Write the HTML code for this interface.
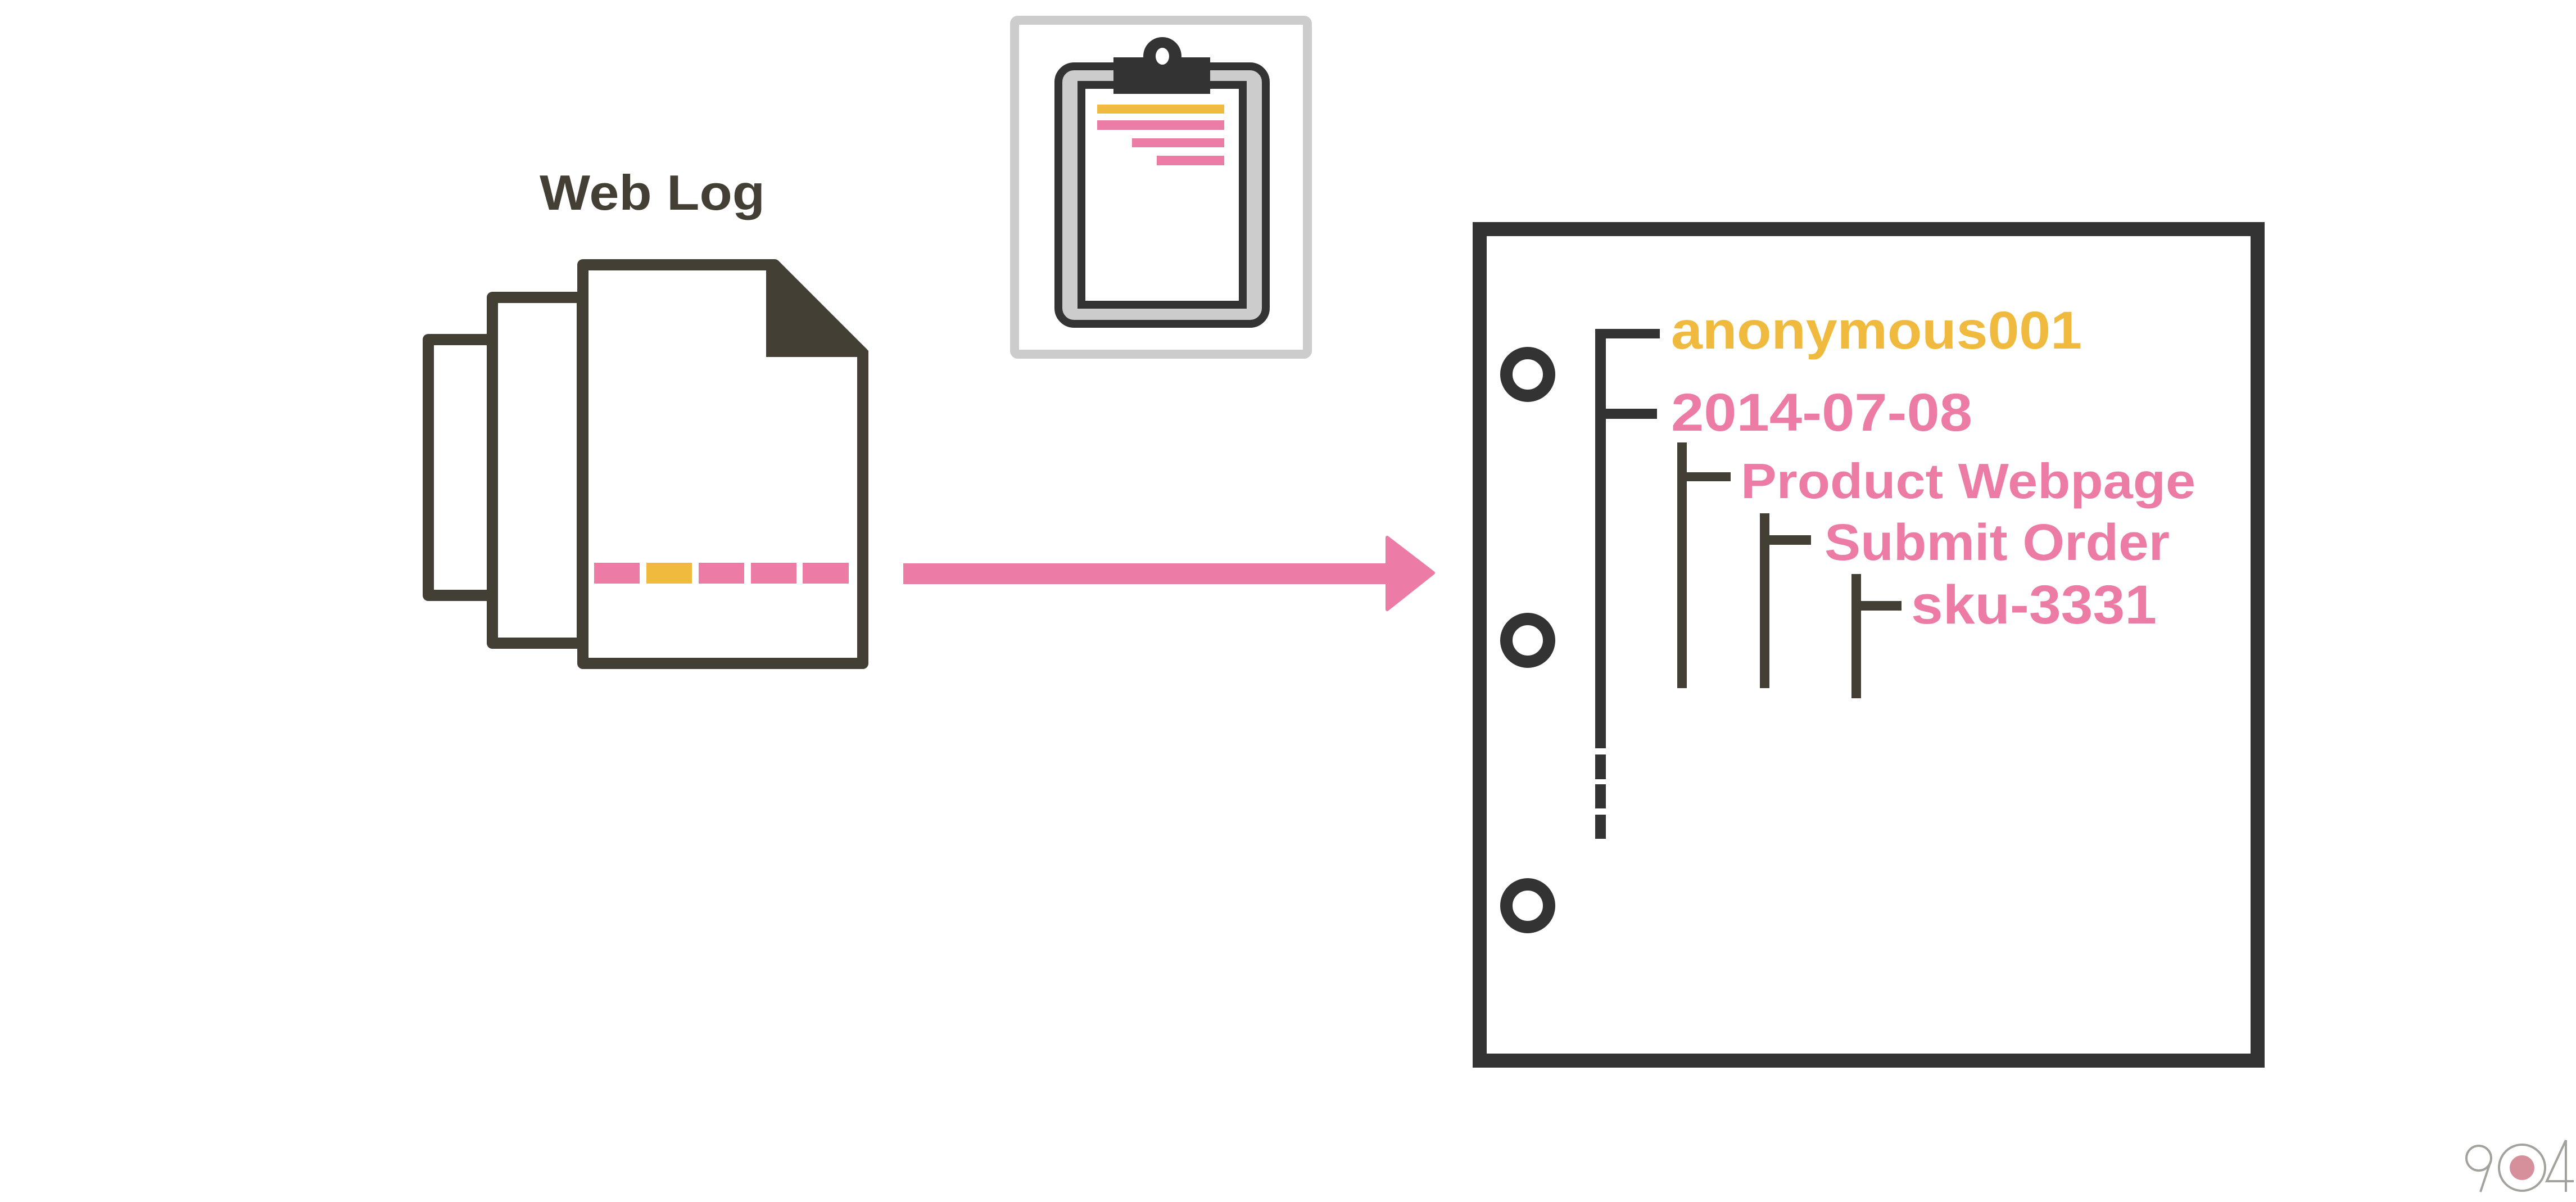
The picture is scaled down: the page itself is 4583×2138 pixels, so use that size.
<!DOCTYPE html>
<html><head><meta charset="utf-8"><style>
html,body{margin:0;padding:0;background:#fff;}
svg{display:block;}
text{font-family:"Liberation Sans",sans-serif;font-weight:bold;}
</style></head><body>
<svg width="4583" height="2138" viewBox="0 0 4583 2138" xmlns="http://www.w3.org/2000/svg">
<rect width="4583" height="2138" fill="#fff"/>
<!-- Web Log label -->
<text x="960" y="373" font-size="88" fill="#433F35" textLength="401" lengthAdjust="spacingAndGlyphs">Web Log</text>
<!-- document stack -->
<g fill="#fff" stroke="#433F35" stroke-width="20" stroke-linejoin="round">
<rect x="762" y="604" width="120" height="455"/>
<rect x="876" y="529" width="160" height="615"/>
<path d="M1037 471 L1378 471 L1535 628 L1535 1180 L1037 1180 Z"/>
</g>
<polygon points="1363,471 1378,471 1545,624 1545,635 1363,635" fill="#433F35"/>
<!-- dashes -->
<rect x="1057" y="1001" width="81" height="37" fill="#EC7CA5"/>
<rect x="1150" y="1001" width="81" height="37" fill="#F0BA3F"/>
<rect x="1243" y="1001" width="81" height="37" fill="#EC7CA5"/>
<rect x="1336" y="1001" width="81" height="37" fill="#EC7CA5"/>
<rect x="1428" y="1001" width="82" height="37" fill="#EC7CA5"/>
<!-- arrow -->
<rect x="1607" y="1002" width="870" height="37" fill="#EC7CA5"/>
<polygon points="2468,956 2550,1019 2468,1084" fill="#EC7CA5" stroke="#EC7CA5" stroke-width="6" stroke-linejoin="round"/>
<!-- clipboard -->
<rect x="1805" y="36" width="521" height="594" fill="#fff" stroke="#ccc" stroke-width="16" rx="6"/>
<rect x="1883" y="118" width="369" height="458" rx="28" fill="#ccc" stroke="#333" stroke-width="14"/>
<rect x="1924" y="151" width="287" height="391" fill="#fff" stroke="#333" stroke-width="14"/>
<rect x="1981" y="102" width="172" height="65" fill="#333"/>
<circle cx="2068" cy="100" r="34" fill="#333"/>
<ellipse cx="2068" cy="100" rx="12" ry="15" fill="#fff"/>
<rect x="1952" y="186" width="226" height="16" fill="#F0BA3F"/>
<rect x="1952" y="214" width="226" height="17" fill="#EC7CA5"/>
<rect x="2014" y="246" width="164" height="16" fill="#EC7CA5"/>
<rect x="2058" y="277" width="120" height="17" fill="#EC7CA5"/>
<!-- panel -->
<rect x="2632.5" y="407.5" width="1384" height="1479" fill="#fff" stroke="#333" stroke-width="25"/>
<g fill="none" stroke="#333" stroke-width="22">
<circle cx="2718" cy="666" r="38"/>
<circle cx="2718" cy="1139" r="38"/>
<circle cx="2718" cy="1611" r="38"/>
</g>
<!-- tree -->
<g fill="#333">
<rect x="2838" y="585" width="19" height="746"/>
<rect x="2838" y="1342" width="19" height="44"/>
<rect x="2838" y="1395" width="19" height="43"/>
<rect x="2838" y="1449" width="19" height="43"/>
<rect x="2838" y="585" width="115" height="17"/>
<rect x="2838" y="727" width="110" height="18"/>
</g>
<g fill="#433F35">
<rect x="2984" y="787" width="17" height="437"/>
<rect x="2984" y="840" width="95" height="16"/>
<rect x="3131" y="913" width="17" height="311"/>
<rect x="3131" y="952" width="91" height="17"/>
<rect x="3294" y="1021" width="17" height="221"/>
<rect x="3294" y="1069" width="89" height="17"/>
</g>
<text x="2973" y="620" font-size="95" fill="#F0BA3F" textLength="731" lengthAdjust="spacingAndGlyphs">anonymous001</text>
<text x="2973" y="766" font-size="95" fill="#EC7CA5" textLength="536" lengthAdjust="spacingAndGlyphs">2014-07-08</text>
<text x="3097" y="886" font-size="88" fill="#EC7CA5" textLength="809" lengthAdjust="spacingAndGlyphs">Product Webpage</text>
<text x="3246" y="996" font-size="92" fill="#EC7CA5" textLength="614" lengthAdjust="spacingAndGlyphs">Submit Order</text>
<text x="3400" y="1109" font-size="97" fill="#EC7CA5" textLength="437" lengthAdjust="spacingAndGlyphs">sku-3331</text>
<!-- 904 logo -->
<g fill="none" stroke="#A4A29C" stroke-width="4">
<circle cx="4410" cy="2060" r="22"/>
<path d="M4431 2066 L4413 2120"/>
<circle cx="4487" cy="2077" r="41"/>
<path d="M4565 2028 L4565 2120 M4565 2028 L4531 2101 L4579 2101"/>
</g>
<circle cx="4487" cy="2077" r="22" fill="#D6909B"/>
</svg>
</body></html>
